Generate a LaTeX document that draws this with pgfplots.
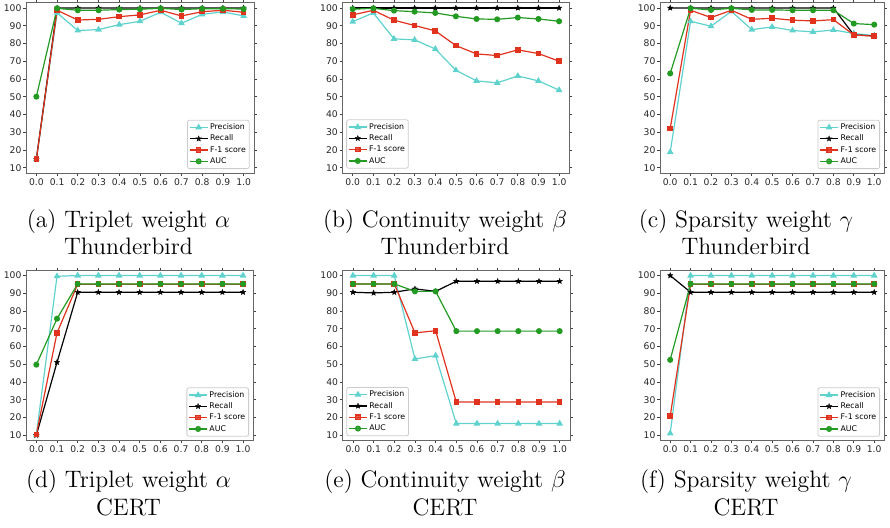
\documentclass[border=0pt]{standalone}
\usepackage{fontspec}
\usepackage{pgfplots}
\pgfplotsset{compat=1.18}
\usepackage{pgfplotstable}
\usetikzlibrary{plotmarks}
\newfontfamily\tickfont{DejaVu Sans}
\definecolor{cprec}{RGB}{95,210,205}
\definecolor{cf1}{RGB}{225,50,30}
\definecolor{cauc}{RGB}{35,155,35}

\pgfdeclareplotmark{fstar}{%
 \pgfpathmoveto{\pgfpointpolar{90}{\pgfplotmarksize}}%
 \pgfpathlineto{\pgfpointpolar{126}{0.42\pgfplotmarksize}}%
 \pgfpathlineto{\pgfpointpolar{162}{\pgfplotmarksize}}%
 \pgfpathlineto{\pgfpointpolar{198}{0.42\pgfplotmarksize}}%
 \pgfpathlineto{\pgfpointpolar{234}{\pgfplotmarksize}}%
 \pgfpathlineto{\pgfpointpolar{270}{0.42\pgfplotmarksize}}%
 \pgfpathlineto{\pgfpointpolar{306}{\pgfplotmarksize}}%
 \pgfpathlineto{\pgfpointpolar{342}{0.42\pgfplotmarksize}}%
 \pgfpathlineto{\pgfpointpolar{18}{\pgfplotmarksize}}%
 \pgfpathlineto{\pgfpointpolar{54}{0.42\pgfplotmarksize}}%
 \pgfpathclose
 \pgfusepathqfillstroke
}

\pgfplotstableread{
x P R F A
0.0 14.8 14.8 14.8 50.0
0.1 97.2 100 98.7 99.8
0.2 87.3 100 93.2 98.7
0.3 87.8 100 93.6 98.7
0.4 90.6 100 95.1 99.1
0.5 92.5 100 96.1 99.3
0.6 97.6 100 98.7 99.8
0.7 91.4 100 95.5 99.1
0.8 96.4 100 97.9 99.6
0.9 97.8 100 98.7 99.6
1.0 95.5 100 97.6 99.4
}\tabA
\pgfplotstableread{
x P R F A
0.0 92.3 100 96.1 99.3
0.1 97.2 100 98.7 99.8
0.2 82.6 100 93.1 98.5
0.3 82.0 100 90.1 97.9
0.4 76.9 100 87.1 97.2
0.5 64.9 100 78.8 95.3
0.6 58.9 100 74.1 93.8
0.7 57.8 100 73.2 93.6
0.8 61.7 100 76.4 94.6
0.9 58.9 100 74.3 93.8
1.0 53.7 100 70.0 92.5
}\tabB
\pgfplotstableread{
x P R F A
0.0 18.8 100 32.1 63.1
0.1 92.5 100 98.7 99.8
0.2 89.7 100 94.6 98.9
0.3 98.1 100 98.7 99.8
0.4 87.8 100 93.6 98.9
0.5 89.3 100 94.2 98.9
0.6 87.3 100 93.1 98.7
0.7 86.5 100 92.7 98.7
0.8 87.6 100 93.4 98.7
0.9 85.6 84.8 84.8 91.2
1.0 84.4 84.3 84.1 90.6
}\tabC
\pgfplotstableread{
x P R F A
0.0 10.3 10.0 10.4 49.8
0.1 99.6 51.1 67.7 75.7
0.2 100 90.6 95.1 95.3
0.3 100 90.6 95.1 95.3
0.4 100 90.6 95.1 95.3
0.5 100 90.6 95.1 95.3
0.6 100 90.6 95.1 95.3
0.7 100 90.6 95.1 95.3
0.8 100 90.6 95.1 95.3
0.9 100 90.6 95.1 95.3
1.0 100 90.6 95.1 95.3
}\tabD
\pgfplotstableread{
x P R F A
0.0 100 90.6 95.3 95.3
0.1 100 90.2 95.3 95.3
0.2 100 90.6 95.3 95.3
0.3 53.0 92.5 67.7 91.1
0.4 54.9 91.1 68.9 91.1
0.5 16.6 96.8 28.7 68.7
0.6 16.6 96.8 28.7 68.7
0.7 16.6 96.8 28.7 68.7
0.8 16.6 96.8 28.7 68.7
0.9 16.6 96.8 28.7 68.7
1.0 16.6 96.8 28.7 68.7
}\tabE
\pgfplotstableread{
x P R F A
0.0 11.1 100 20.8 52.5
0.1 100 90.6 95.1 95.3
0.2 100 90.6 95.1 95.3
0.3 100 90.6 95.1 95.3
0.4 100 90.6 95.1 95.3
0.5 100 90.6 95.1 95.3
0.6 100 90.6 95.1 95.3
0.7 100 90.6 95.1 95.3
0.8 100 90.6 95.1 95.3
0.9 100 90.6 95.1 95.3
1.0 100 90.6 95.1 95.3
}\tabF

\pgfplotsset{
 panel/.style={
  scale only axis, height=85pt,
  xmin=-0.05, xmax=1.05, ymin=7, ymax=102.8,
  xtick={0,0.1,0.2,0.3,0.4,0.5,0.6,0.7,0.8,0.9,1.0},
  xticklabels={0.0,0.1,0.2,0.3,0.4,0.5,0.6,0.7,0.8,0.9,1.0},
  ytick={10,20,30,40,50,60,70,80,90,100},
  tick align=outside, major tick length=1.3pt,
  tick style={black!75, line width=0.4pt},
  axis line style={black!60, line width=0.5pt},
  ticklabel style={font=\tickfont\fontsize{4.6}{5.5}\selectfont, text=black!85},
  yticklabel style={inner xsep=0.8pt},
  xticklabel style={inner ysep=1.1pt},
  /pgf/number format/assume math mode=true,
  legend cell align=left,
  legend style={font=\tickfont\fontsize{3.9}{4.6}\selectfont, draw=black!20, rounded corners=1pt,
    fill=white, fill opacity=0.8, text opacity=1, draw opacity=1, inner xsep=0.8pt, inner ysep=0.8pt,
    row sep=0pt,
    nodes={inner sep=0.9pt, text height=2.95pt, text depth=0.9pt}},
  legend image code/.code={\draw[mark repeat=2,mark phase=2] plot coordinates {(0cm,0cm) (4.5pt,0cm) (9pt,0cm)};},
 },
 lr/.style={legend style={at={(1,0)}, anchor=south east, xshift=-2.2pt, yshift=2pt}},
 ll/.style={legend style={at={(0,0)}, anchor=south west, xshift=1.9pt, yshift=2.2pt}},
 sp/.style={color=cprec, line width=0.6pt, mark=triangle*, mark size=1.35pt, mark options={solid,fill=cprec,draw=cprec}},
 sr/.style={color=black, line width=0.6pt, mark=fstar, mark size=1.4pt, mark options={solid,fill=black,draw=black,line width=0.2pt}},
 sf/.style={color=cf1, line width=0.6pt, mark=square*, mark size=1.1pt, mark options={solid,fill=cf1,draw=cf1}},
 sa/.style={color=cauc, line width=0.6pt, mark=*, mark size=1.2pt, mark options={solid,fill=cauc,draw=cauc}},
}
\newcommand{\curves}[1]{%
 \addplot[sp] table[x=x,y=P]{#1};
 \addplot[sr] table[x=x,y=R]{#1};
 \addplot[sf] table[x=x,y=F]{#1};
 \addplot[sa] table[x=x,y=A]{#1};
 \legend{Precision,Recall,F-1 score,AUC}
}
\newcommand{\capfont}{\fontsize{11.9}{14}\selectfont}

\begin{document}
\begin{tikzpicture}
\path[use as bounding box] (0,0) rectangle (445pt,263.5pt);

\begin{axis}[panel, lr, width=114pt, at={(13pt,177pt)}, anchor=south west]
\curves{\tabA}
\end{axis}
\begin{axis}[panel, ll, width=113.5pt, at={(171.2pt,177pt)}, anchor=south west]
\curves{\tabB}
\end{axis}
\begin{axis}[panel, lr, width=112.2pt, at={(330pt,177pt)}, anchor=south west]
\curves{\tabC}
\end{axis}
\begin{axis}[panel, lr, width=113.7pt, at={(13pt,43.2pt)}, anchor=south west]
\curves{\tabD}
\end{axis}
\begin{axis}[panel, ll, width=113.7pt, at={(171.3pt,43.2pt)}, anchor=south west]
\curves{\tabE}
\end{axis}
\begin{axis}[panel, lr, width=112.2pt, at={(330pt,43.2pt)}, anchor=south west]
\curves{\tabF}
\end{axis}

\node[anchor=base, font=\capfont, inner sep=0pt] at (64.25pt,150pt) {(a) Triplet weight $\alpha$};
\node[anchor=base, font=\capfont, inner sep=0pt] at (64.25pt,136.2pt) {Thunderbird};
\node[anchor=base, font=\capfont, inner sep=0pt] at (222.5pt,150pt) {(b) Continuity weight $\beta$};
\node[anchor=base, font=\capfont, inner sep=0pt] at (222.5pt,136.2pt) {Thunderbird};
\node[anchor=base, font=\capfont, inner sep=0pt] at (373pt,150pt) {(c) Sparsity weight $\gamma$};
\node[anchor=base, font=\capfont, inner sep=0pt] at (373pt,136.2pt) {Thunderbird};

\node[anchor=base, font=\capfont, inner sep=0pt] at (64.25pt,19.8pt) {(d) Triplet weight $\alpha$};
\node[anchor=base, font=\capfont, inner sep=0pt] at (64.25pt,5.6pt) {CERT};
\node[anchor=base, font=\capfont, inner sep=0pt] at (222.5pt,19.8pt) {(e) Continuity weight $\beta$};
\node[anchor=base, font=\capfont, inner sep=0pt] at (222.5pt,5.6pt) {CERT};
\node[anchor=base, font=\capfont, inner sep=0pt] at (373pt,19.8pt) {(f) Sparsity weight $\gamma$};
\node[anchor=base, font=\capfont, inner sep=0pt] at (373pt,5.6pt) {CERT};
\end{tikzpicture}
\end{document}
